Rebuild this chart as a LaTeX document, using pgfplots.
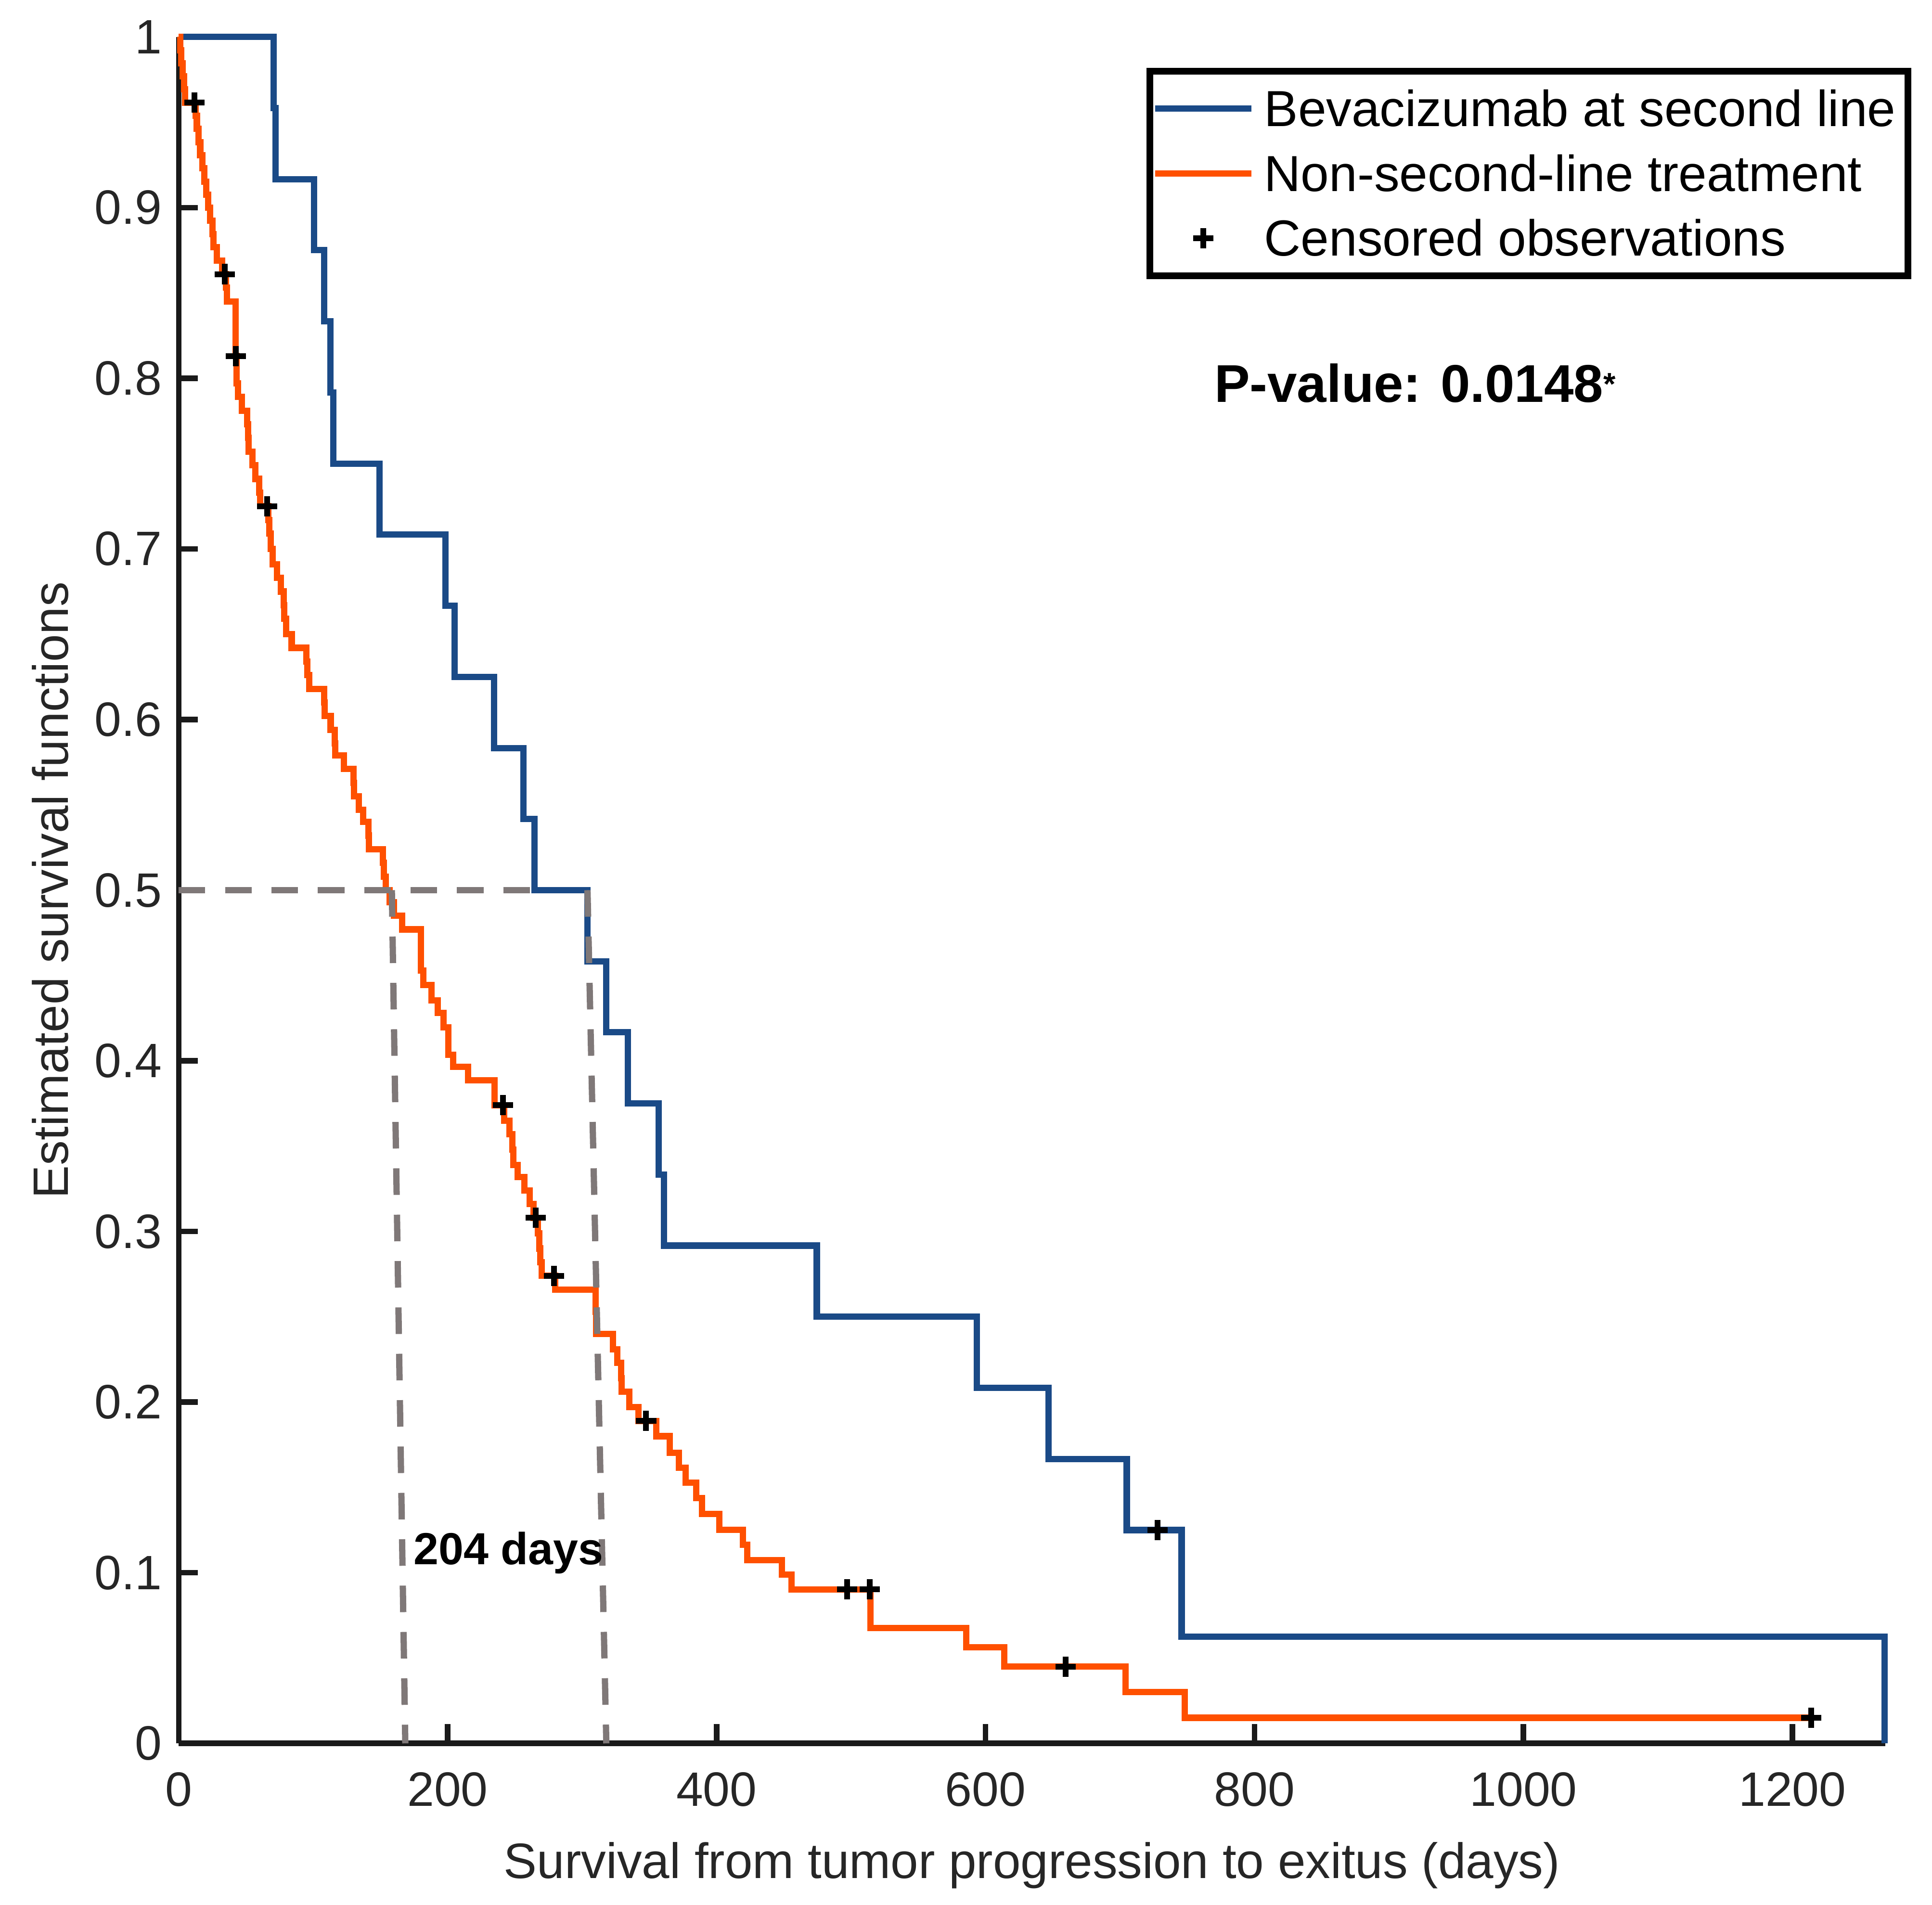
\documentclass[border=0pt]{standalone}
\usepackage{pgfplots}
\pgfplotsset{compat=1.18}
\usepackage{fontspec}
\setmainfont{Liberation Sans}
\definecolor{kmblue}{HTML}{1A4A87}
\definecolor{kmorange}{HTML}{FF5000}
\definecolor{dashgray}{HTML}{7F7878}
\definecolor{axgray}{HTML}{1A1A1A}
\pgfplotsset{
  lineleg/.style={legend image code/.code={\draw[##1] (0cm,0cm) -- (0.7cm,0cm);}},
  markleg/.style={legend image code/.code={\draw[mark=+, mark size=2.1pt, line width=1.2pt, black] plot coordinates {(0.35cm,0cm)};}},
}
\begin{document}
\begin{tikzpicture}
\begin{axis}[
  scale only axis,
  width=353.3pt, height=353.3pt,
  xmin=0, xmax=1269, ymin=0, ymax=1,
  clip=false,
  axis x line=bottom, axis y line=left,
  axis line style={-, line width=1.15pt, color=axgray},
  tick align=inside,
  major tick length=4pt,
  tick style={line width=1.15pt, color=axgray},
  xtick={0,200,400,600,800,1000,1200},
  xticklabels={0,200,400,600,800,1000,1200},
  ytick={0,0.1,0.2,0.3,0.4,0.5,0.6,0.7,0.8,0.9,1},
  yticklabels={0,0.1,0.2,0.3,0.4,0.5,0.6,0.7,0.8,0.9,1},
  /pgf/number format/assume math mode=true,
  ticklabel style={font=\fontsize{10}{12}\selectfont, color=black!85},
  xticklabel style={yshift=-2.5pt},
  xlabel={Survival from tumor progression to exitus (days)},
  ylabel={Estimated survival functions},
  label style={font=\fontsize{10.3}{12}\selectfont, color=black!85},
  xlabel style={yshift=-0.5pt},
  ylabel style={yshift=-1.5pt},
  legend style={at={(rel axis cs:1,1)}, anchor=north east, xshift=5.4pt, yshift=-6.4pt,
    draw=black, line width=1.4pt, font=\fontsize{10.5}{12}\selectfont,
    inner xsep=0.5pt, inner ysep=1.8pt, row sep=1.5pt,
    nodes={text depth=0.3pt},
    /tikz/every even column/.append style={column sep=1.5pt}},
  legend cell align=left,
]
\addplot[const plot, kmblue, line width=1.3pt, lineleg]
  coordinates {(0,1) (70.5,0.9583) (72,0.9167) (100.5,0.875) (108.3,0.8333) (112.7,0.7917)
  (115,0.75) (149.4,0.7083) (198.2,0.6667) (205,0.625) (234.5,0.5833) (256.5,0.5417)
  (264.7,0.5) (304,0.4583) (318,0.4167) (334,0.375) (357,0.3333) (361,0.2917)
  (474.5,0.25) (593.6,0.2083) (646.7,0.1667) (705,0.125) (745.8,0.0625) (1268.5,0.0625) (1268.5,0)};
\addlegendentry{Bevacizumab at second line}
\addplot[const plot, kmorange, line width=1.3pt, lineleg]
  coordinates {(0,1.0) (1,0.9923) (2,0.9846) (3,0.9769) (4,0.9692) (4.6,0.9615)
  (12.5,0.9538) (13.5,0.9461) (14.6,0.9384) (16,0.9307) (17.6,0.923) (19,0.9153)
  (20.5,0.9076) (22,0.8999) (23.5,0.8922) (25,0.8845) (26,0.8768) (28.3,0.869)
  (32.4,0.861) (35,0.853) (36,0.845) (42.3,0.813) (43,0.797) (44,0.789) (47,0.781)
  (51,0.773) (51.5,0.765) (52,0.757) (55,0.749) (57,0.741) (60,0.733) (60.5,0.725)
  (66.5,0.717) (67.5,0.709) (68.5,0.700) (70,0.691) (73,0.683) (76,0.675) (78,0.667)
  (78.5,0.659) (80,0.650) (84,0.642) (95,0.634) (95.5,0.626) (97,0.618) (108,0.610)
  (108.5,0.602) (113,0.594) (116,0.586) (116.5,0.579) (123,0.571) (130,0.563)
  (130.5,0.555) (134,0.547) (137,0.540) (141,0.532) (141.5,0.524) (152,0.516)
  (152.5,0.508) (154,0.500) (157,0.493) (160,0.485) (166,0.477) (180,0.453)
  (182,0.4445) (188,0.4355) (192.7,0.428) (197,0.4195) (200.5,0.4036) (204,0.3965)
  (215.3,0.3885) (235,0.374) (242,0.365) (246,0.357) (248,0.348) (249,0.339)
  (252,0.332) (257,0.324) (261,0.316) (264,0.308) (267,0.299) (268,0.290) (269,0.282)
  (270,0.274) (280,0.266) (310,0.253) (310.5,0.240) (323,0.231) (326,0.223)
  (329,0.214) (329.5,0.206) (335,0.197) (342,0.189) (355,0.180) (365,0.1703)
  (372,0.1616) (377,0.1527) (385,0.1438) (389,0.1345) (402,0.1252) (419.4,0.1163)
  (422.7,0.1074) (448.7,0.099) (455.6,0.0903) (514.5,0.0677) (585.5,0.0563)
  (613.8,0.045) (704,0.030) (748,0.015) (1214,0.015)};
\addlegendentry{Non-second-line treatment}
\addplot[only marks, mark=+, mark size=2.1pt, line width=1.2pt, black, markleg]
  coordinates {(11.6,0.9615) (34.2,0.861) (42.5,0.813) (65.7,0.725) (241,0.374)
  (265.5,0.308) (279,0.274) (347.6,0.189) (497,0.0903) (514,0.0903) (659.4,0.045)
  (1214,0.015) (728,0.125)};
\addlegendentry{Censored observations}
\addplot[forget plot, dashgray, line width=1.3pt, dash pattern=on 5.5pt off 4.1pt]
  coordinates {(0,0.5) (265,0.5)};
\addplot[forget plot, dashgray, line width=1.3pt, dash pattern=on 5.5pt off 4.1pt]
  coordinates {(158.5,0.5) (168.5,0)};
\addplot[forget plot, dashgray, line width=1.3pt, dash pattern=on 5.5pt off 4.1pt]
  coordinates {(304,0.5) (318,0)};
\node[anchor=base west, inner sep=0pt, font=\fontsize{11}{13}\selectfont\bfseries]
  at (axis cs:769.5,0.786) {P-value: 0.0148\raisebox{1.5pt}{\fontsize{6.5}{7}\selectfont *}};
\node[anchor=base west, inner sep=0pt, font=\fontsize{9.3}{11}\selectfont\bfseries]
  at (axis cs:174,0.1047) {204 days};
\end{axis}
\path ([shift={(-37pt,-32.9pt)}]current axis.south west) rectangle ([shift={(9.7pt,7.65pt)}]current axis.north east);
\end{tikzpicture}
\end{document}
